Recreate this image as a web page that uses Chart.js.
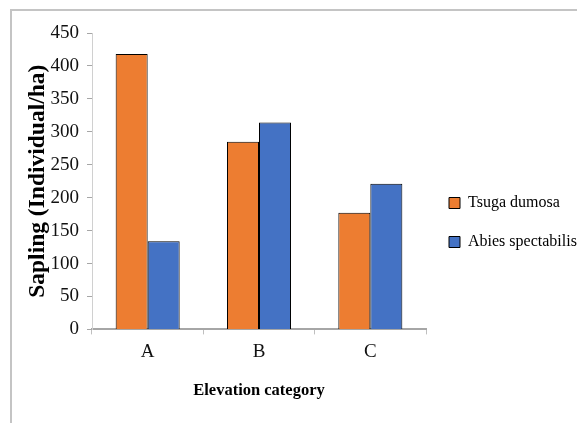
<!DOCTYPE html>
<html>
<head>
<meta charset="utf-8">
<script src="https://cdn.jsdelivr.net/npm/chart.js@4/dist/chart.umd.min.js"></script>
<style>
  html, body { margin: 0; padding: 0; background: #fff; overflow: hidden; width: 577px; height: 423px; }
  #frame { position: absolute; left: 10px; top: 9px; width: 567px; height: 414px;
           border-top: 2px solid #c4c4c4; border-left: 2px solid #c4c4c4; box-sizing: border-box; }
  #wrap { position: absolute; left: 0; top: 0; width: 577px; height: 423px; }
</style>
</head>
<body>
<div id="frame"></div>
<div id="wrap"><canvas id="c"></canvas></div>
<script>
const categories = ['A', 'B', 'C'];
const tsugaDumosa = [418, 285, 177];
const abiesSpectabilis = [134, 314, 221];
const seriesNames = ['Tsuga dumosa', 'Abies spectabilis'];
const yTitle = 'Sapling (Individual/ha)';
const xTitle = 'Elevation category';

const serif = '"Liberation Serif", "Times New Roman", serif';

new Chart(document.getElementById('c'), {
  type: 'bar',
  data: {
    labels: categories,
    datasets: [
      { label: seriesNames[0], data: tsugaDumosa, backgroundColor: '#ED7D31', borderColor: '#000', borderWidth: 1 },
      { label: seriesNames[1], data: abiesSpectabilis, backgroundColor: '#4472C4', borderColor: '#000', borderWidth: 1 }
    ]
  },
  options: {
    responsive: true,
    maintainAspectRatio: false,
    animation: false,
    categoryPercentage: 0.575,
    barPercentage: 1,
    layout: { padding: { top: 33, bottom: 11, left: 21, right: 0 } },
    plugins: {
      tooltip: { enabled: false },
      legend: {
        position: 'right',
        align: 'center',
        maxWidth: 151,
        labels: {
          font: { family: serif, size: 16 },
          color: '#000',
          boxWidth: 11,
          boxHeight: 11,
          padding: 23
        }
      }
    },
    scales: {
      x: {
        grid: { display: true, drawOnChartArea: false, drawTicks: true, tickLength: 5, color: '#bfbfbf', offset: true },
        border: { display: true, color: '#a6a6a6', width: 2 },
        ticks: { font: { family: serif, size: 19 }, color: '#111', padding: 6 },
        title: { display: true, text: xTitle, font: { family: serif, size: 16.5, weight: 'bold' }, color: '#000',
                 padding: { top: 12, bottom: 11 } }
      },
      y: {
        min: 0, max: 450,
        grid: { display: true, drawOnChartArea: false, drawTicks: true, tickLength: 5, color: '#a6a6a6' },
        border: { display: true, color: '#d0d0d0', width: 1 },
        ticks: { stepSize: 50, font: { family: serif, size: 19 }, color: '#111', padding: 8 },
        title: { display: true, text: yTitle, font: { family: serif, size: 23.5, weight: 'bold' }, color: '#000',
                 padding: { top: 3, bottom: 0 } },
        afterFit: (scale) => { scale.width = 71; }
      }
    }
  }
});
</script>
</body>
</html>
